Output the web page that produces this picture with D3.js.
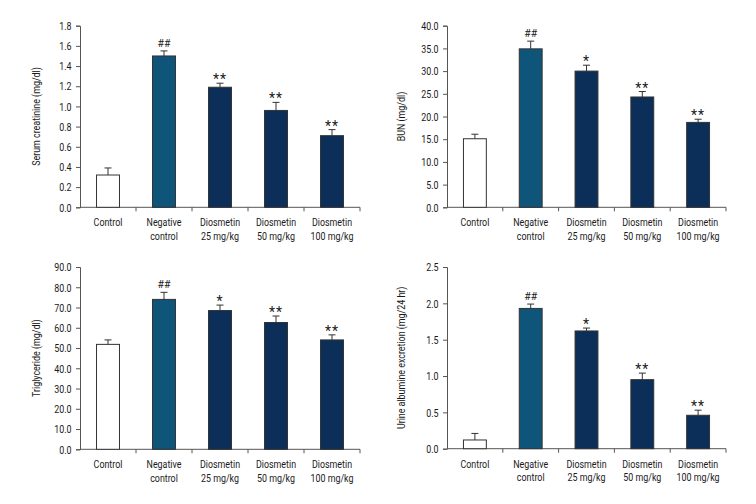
<!DOCTYPE html>
<html>
<head>
<meta charset="utf-8">
<script src="https://cdn.jsdelivr.net/npm/d3@7"></script>
<style>
  body { margin: 0; background: #fff; }
  svg text { font-family: "Roboto", "Noto Sans", sans-serif; fill: #1a1a1a; }
</style>
</head>
<body>
<svg id="chart" width="756" height="504"></svg>
<script>
const groups = ["Control", "Negative control", "Diosmetin 25 mg/kg", "Diosmetin 50 mg/kg", "Diosmetin 100 mg/kg"];
const groupLines = [["Control"], ["Negative", "control"], ["Diosmetin", "25 mg/kg"], ["Diosmetin", "50 mg/kg"], ["Diosmetin", "100 mg/kg"]];

const creatinine = [0.32, 1.50, 1.19, 0.96, 0.71];
const creatinineErr = [0.07, 0.05, 0.04, 0.08, 0.06];
const creatinineTicks = [0, 0.2, 0.4, 0.6, 0.8, 1.0, 1.2, 1.4, 1.6, 1.8];
const creatinineMarks = ["", "##", "**", "**", "**"];

const bun = [15.1, 34.9, 30.0, 24.3, 18.7];
const bunErr = [1.0, 1.7, 1.3, 1.2, 0.7];
const bunTicks = [0, 5, 10, 15, 20, 25, 30, 35, 40];
const bunMarks = ["", "##", "*", "**", "**"];

const triglyceride = [51.8, 74.0, 68.5, 62.6, 54.0];
const triglycerideErr = [2.2, 3.5, 2.7, 3.2, 2.5];
const triglycerideTicks = [0, 10, 20, 30, 40, 50, 60, 70, 80, 90];
const triglycerideMarks = ["", "##", "*", "**", "**"];

const albumin = [0.12, 1.93, 1.62, 0.95, 0.46];
const albuminErr = [0.09, 0.06, 0.04, 0.09, 0.07];
const albuminTicks = [0, 0.5, 1.0, 1.5, 2.0, 2.5];
const albuminMarks = ["", "##", "*", "**", "**"];

const fills = ["#ffffff", "#0f5579", "#0b2f58", "#0b2f58", "#0b2f58"];

const SX = 0.76;   // horizontal condensing of text
const FS = 11.7;

const svg = d3.select("#chart");

function panel(opts) {
  const g = svg.append("g");
  const x = d3.scaleBand().domain(groups).range([opts.x0, opts.x1]).paddingInner(0.59).paddingOuter(0.295);
  const xb = d3.scaleLinear().domain([0, groups.length]).range([opts.x0, opts.x1]);
  const y = d3.scaleLinear().domain([0, opts.max]).range([opts.y1, opts.y0]);

  // y axis
  const ya = g.append("g").attr("transform", `translate(${opts.x0},0)`)
    .call(d3.axisLeft(y).tickValues(opts.ticks).tickFormat(d3.format(opts.fmt)).tickSize(4).tickPadding(3));
  ya.select(".domain").attr("stroke", "#555");
  ya.selectAll(".tick line").attr("stroke", "#555");
  ya.selectAll("text").attr("font-size", FS).attr("font-family", null).style("fill", "#1a1a1a")
    .attr("x", -8.5 / SX).attr("transform", `scale(${SX},1)`);

  // x axis baseline with boundary ticks
  g.append("line").attr("x1", opts.x0).attr("x2", opts.x1).attr("y1", opts.y1).attr("y2", opts.y1).attr("stroke", "#555");
  g.selectAll(".xt").data(d3.range(1, groups.length + 1)).enter().append("line")
    .attr("x1", d => xb(d)).attr("x2", d => xb(d)).attr("y1", opts.y1).attr("y2", opts.y1 + 4).attr("stroke", "#555");

  // x labels
  groups.forEach((gname, i) => {
    const cx = x(gname) + x.bandwidth() / 2;
    const t = g.append("g").attr("transform", `translate(${cx},${opts.y1 + 19}) scale(${SX},1)`)
      .append("text").attr("text-anchor", "middle").attr("font-size", FS);
    groupLines[i].forEach((ln, j) => {
      t.append("tspan").attr("x", 0).attr("dy", j === 0 ? 0 : 13.5).text(ln);
    });
  });

  // bars
  g.selectAll(".bar").data(opts.values).enter().append("rect")
    .attr("x", (d, i) => x(groups[i]))
    .attr("width", x.bandwidth())
    .attr("y", d => y(d))
    .attr("height", d => y(0) - y(d))
    .attr("fill", (d, i) => fills[i])
    .attr("stroke", "#333").attr("stroke-width", 1);

  // error bars
  opts.values.forEach((v, i) => {
    const cx = x(groups[i]) + x.bandwidth() / 2;
    const top = y(v + opts.err[i]);
    g.append("line").attr("x1", cx).attr("x2", cx).attr("y1", y(v)).attr("y2", top).attr("stroke", "#333");
    g.append("line").attr("x1", cx - 3.5).attr("x2", cx + 3.5).attr("y1", top).attr("y2", top).attr("stroke", "#333");
    if (opts.marks[i]) {
      const hash = opts.marks[i] === "##";
      g.append("text").attr("text-anchor", "middle").attr("font-size", hash ? 10.5 : 14)
        .attr("letter-spacing", hash ? 0 : 1)
        .attr("x", cx).attr("y", top - (hash ? 4 : -1)).text(opts.marks[i]);
    }
  });

  // y label
  g.append("text").attr("text-anchor", "middle").attr("font-size", FS)
    .attr("transform", `translate(${opts.lx},${(opts.y0 + opts.y1) / 2}) rotate(-90) scale(${SX},1)`)
    .text(opts.label);
}

panel({x0: 80, x1: 360, y0: 25.7, y1: 207.3, max: 1.8, ticks: creatinineTicks, fmt: ".1f",
  values: creatinine, err: creatinineErr, marks: creatinineMarks, label: "Serum creatinine (mg/dl)", lx: 40});
panel({x0: 447, x1: 726, y0: 25.7, y1: 207.3, max: 40, ticks: bunTicks, fmt: ".1f",
  values: bun, err: bunErr, marks: bunMarks, label: "BUN (mg/dl)", lx: 405});
panel({x0: 80, x1: 360, y0: 267, y1: 449.3, max: 90, ticks: triglycerideTicks, fmt: ".1f",
  values: triglyceride, err: triglycerideErr, marks: triglycerideMarks, label: "Triglyceride (mg/dl)", lx: 40});
panel({x0: 447, x1: 726, y0: 267, y1: 448.7, max: 2.5, ticks: albuminTicks, fmt: ".1f",
  values: albumin, err: albuminErr, marks: albuminMarks, label: "Urine albumine excretion (mg/24 hr)", lx: 405});
</script>
</body>
</html>
